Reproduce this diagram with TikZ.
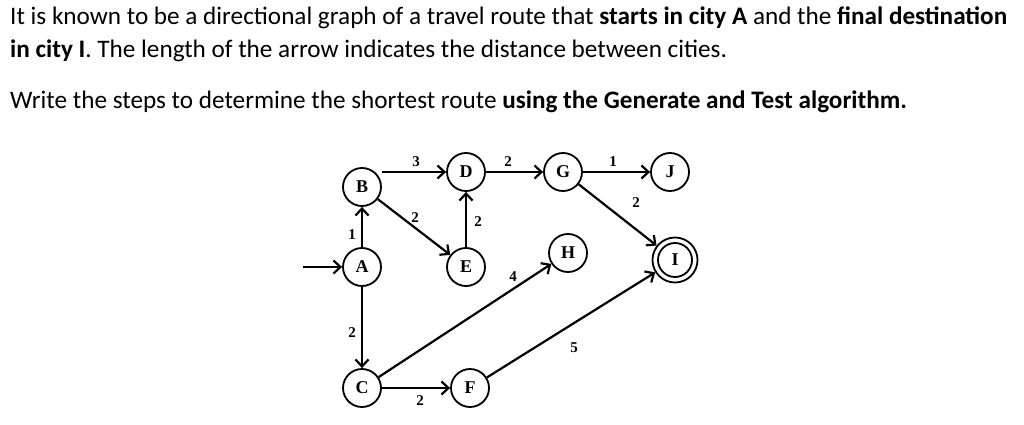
\documentclass[tikz,border=0pt]{standalone}
\usepackage{fontspec}
\setmainfont{Carlito}
\newfontfamily\tms{Liberation Serif}
\usetikzlibrary{arrows.meta}
\begin{document}
\begin{tikzpicture}[x=1pt,y=-1pt,
  st/.style={circle,draw,line width=1.8pt,minimum size=38pt,inner sep=0pt,font=\tms\bfseries\fontsize{18}{18}\selectfont},
  ed/.style={line width=2.2pt,-{Straight Barb[length=7pt,width=13pt,line width=2.2pt]}},
  lb/.style={font=\tms\bfseries\fontsize{15}{15}\selectfont,inner sep=0pt},
  tx/.style={anchor=base west,inner sep=0pt,font=\fontsize{25.2}{25.2}\selectfont}]
\useasboundingbox (0,0) rectangle (1024,425);
\node[tx] (t1) at (10,25) {It is known to be a directional graph of a travel route that \textbf{starts in city A} and the \textbf{final destination}};
\node[tx] (t2) at (10,58) {\textbf{in city I}. The length of the arrow indicates the distance between cities.};
\node[tx] (t3) at (10,109) {Write the steps to determine the shortest route \textbf{using the Generate and Test algorithm.}};
\node[st] (B) at (362,187) {B};
\node[st] (D) at (466,172) {D};
\node[st] (G) at (563,172) {G};
\node[st] (J) at (670,172) {J};
\node[st] (A) at (362,267) {A};
\node[st] (E) at (466,267) {E};
\node[st] (H) at (568,253) {H};
\node[st,minimum size=45pt] (I) at (675,260) {};
\node[st,minimum size=34pt] (I2) at (675,260) {I};
\node[st] (C) at (362,388) {C};
\node[st] (F) at (470,388) {F};
\coordinate (s) at (303,267);
\draw[ed] (s) -- (A);
\draw[ed] (A) -- (B);
\draw[ed] (A) -- (C);
\draw[ed] (B.east |- D) -- (D);
\draw[ed] (B) -- (E);
\draw[ed] (E) -- (D);
\draw[ed] (D) -- (G);
\draw[ed] (G) -- (J);
\draw[ed] (G) -- (I);
\draw[ed] (C) -- (H);
\draw[ed] (C) -- (F);
\draw[ed] (F) -- (I);
\node[lb] (l1) at (416,162) {3};
\node[lb] (l2) at (508,162) {2};
\node[lb] (l3) at (613,162) {1};
\node[lb] (l4) at (636,203) {2};
\node[lb] (l5) at (415,218) {2};
\node[lb] (l6) at (478,222) {2};
\node[lb] (l7) at (352,235) {1};
\node[lb] (l8) at (513,277) {4};
\node[lb] (l9) at (352,333) {2};
\node[lb] (l10) at (574,348) {5};
\node[lb] (l11) at (420,401) {2};
\end{tikzpicture}
\end{document}
